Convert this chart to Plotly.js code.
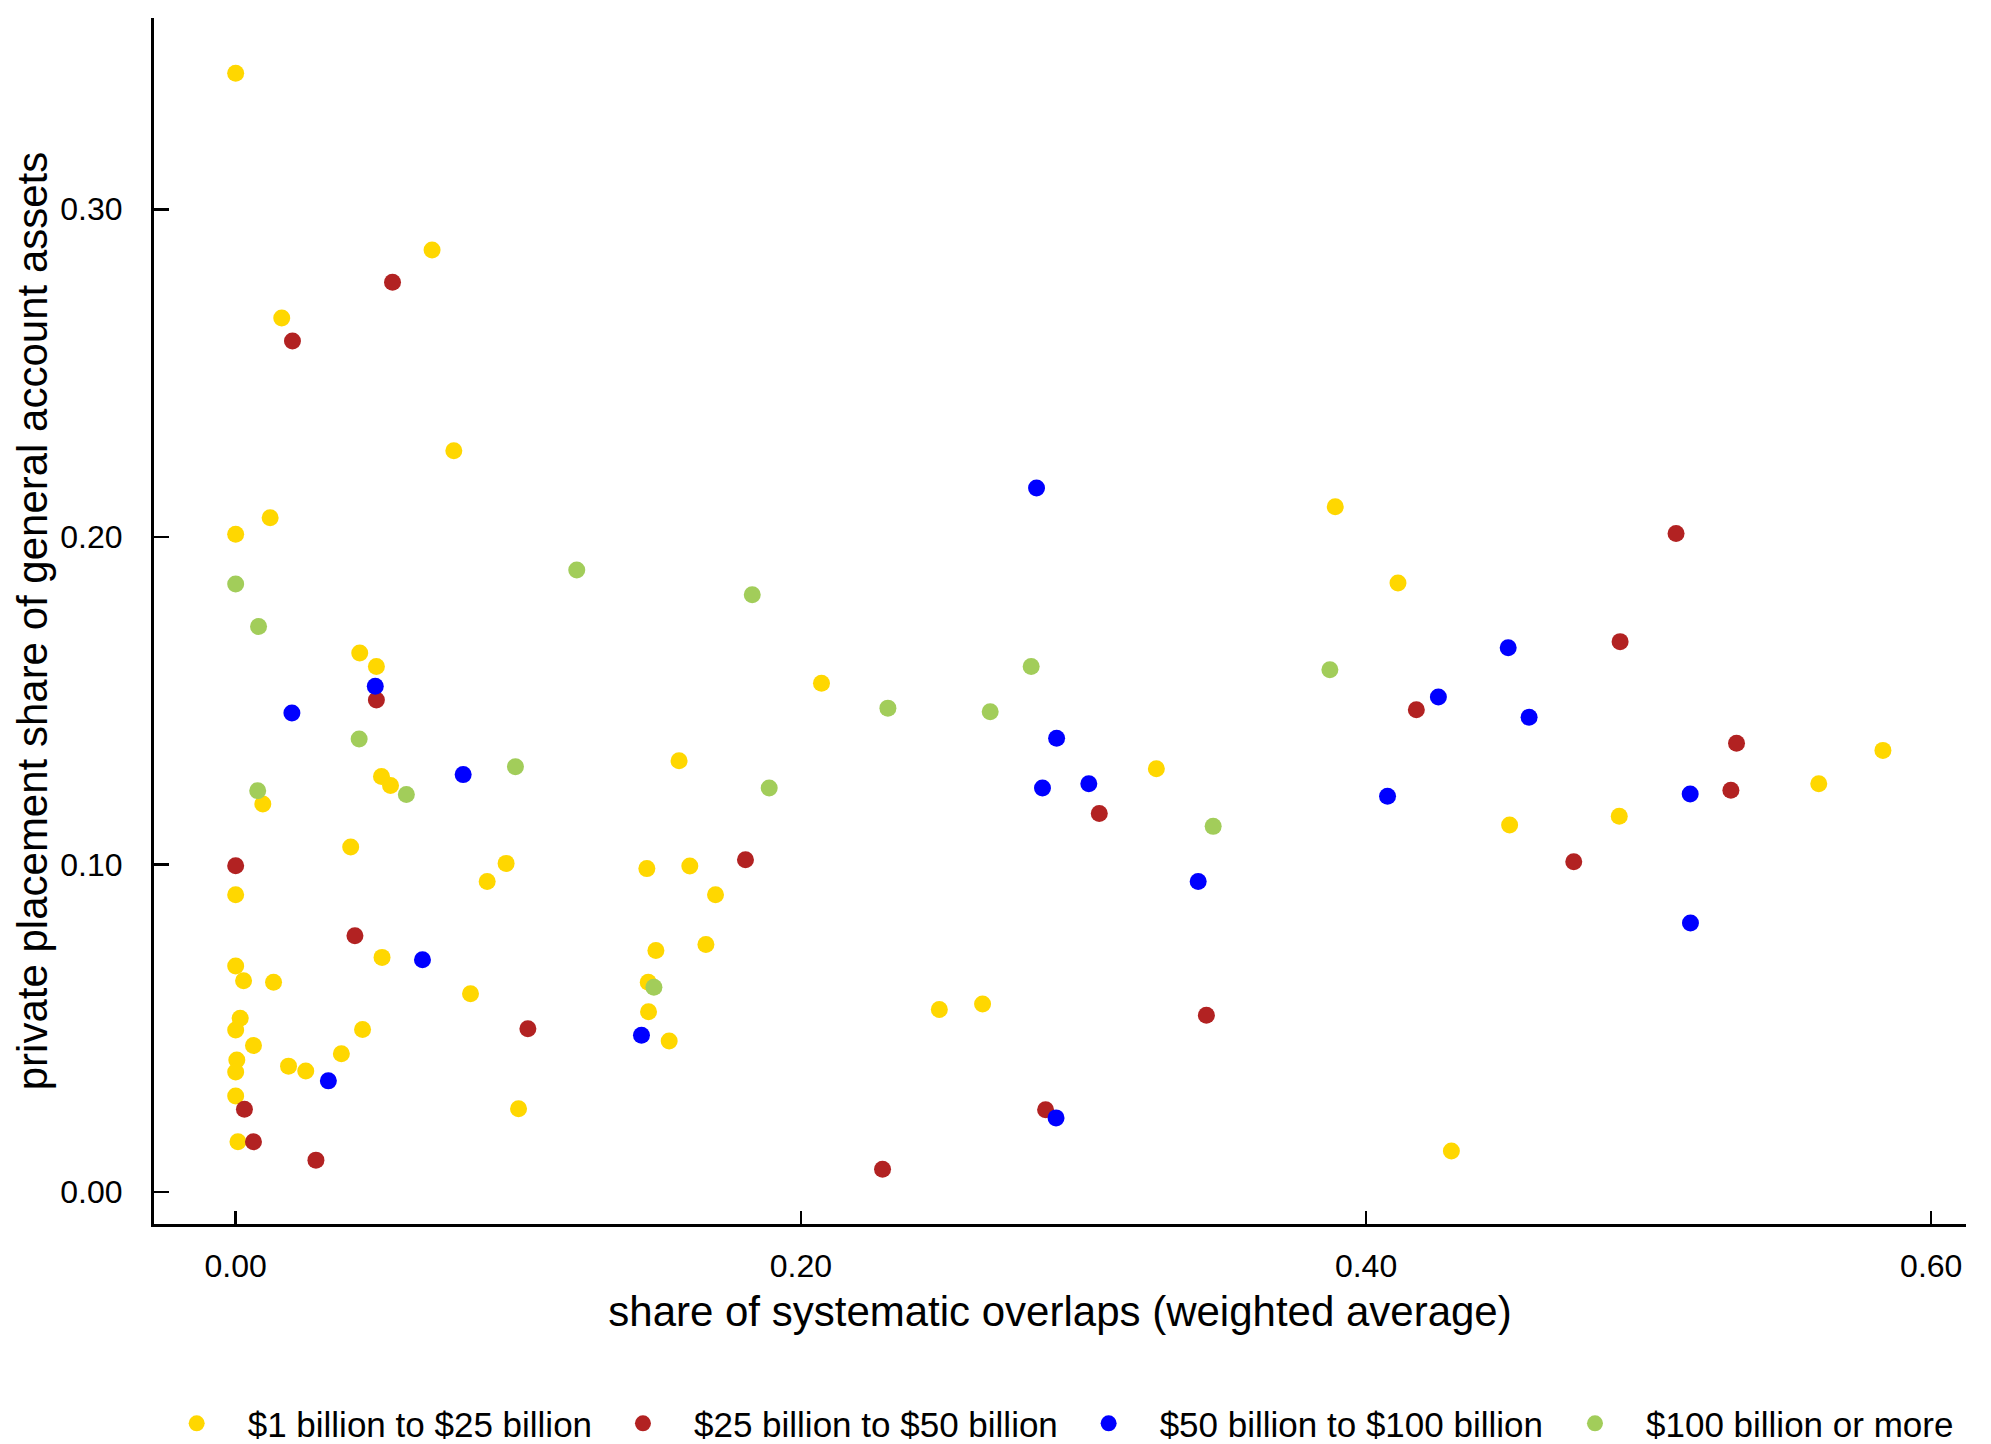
<!DOCTYPE html>
<html>
<head>
<meta charset="utf-8">
<script src="https://cdn.plot.ly/plotly-3.0.1.min.js"></script>
<style>html,body{margin:0;padding:0;background:#fff;}#chart{width:1991px;height:1444px;}</style>
</head>
<body>
<div id="chart"></div>
<script>
// ---- data ----
const seriesNames = ["$1 billion to $25 billion", "$25 billion to $50 billion", "$50 billion to $100 billion", "$100 billion or more"];

const smallX = [0.000,0.0695,0.0163,0.0772,0.0122,0.000,0.0439,0.0498,0.0516,0.0548,0.0096,0.0407,0.0957,0.0890,0.000,0.0518,0.000,0.0028,0.0134,0.0831,0.0016,0.000,0.0449,0.0063,0.0374,0.0004,0.000,0.0187,0.0248,0.000,0.1001,0.0008,0.2073,0.1569,0.3258,0.1455,0.1607,0.1698,0.1487,0.1664,0.1460,0.1461,0.1534,0.2490,0.2643,0.3891,0.4113,0.5829,0.5602,0.4896,0.4508,0.4302];
const smallY = [0.3415,0.2876,0.2668,0.2263,0.2058,0.2008,0.1645,0.1604,0.1268,0.1241,0.1184,0.1053,0.1003,0.0948,0.0907,0.0716,0.0690,0.0645,0.0640,0.0605,0.0530,0.0494,0.0496,0.0447,0.0422,0.0403,0.0366,0.0384,0.0369,0.0293,0.0254,0.0153,0.1553,0.1316,0.1292,0.0987,0.0995,0.0907,0.0737,0.0755,0.0640,0.0550,0.0461,0.0557,0.0574,0.2092,0.1859,0.1348,0.1246,0.1147,0.1120,0.0125];

const midX = [0.0555,0.0201,0.0498,0.000,0.0422,0.1034,0.0031,0.0063,0.0284,0.3056,0.1804,0.3435,0.2866,0.2289,0.5097,0.4899,0.4178,0.5311,0.5291,0.4735];
const midY = [0.2777,0.2598,0.1502,0.0996,0.0782,0.0498,0.0252,0.0153,0.0097,0.1155,0.1014,0.0539,0.0251,0.0069,0.2010,0.1680,0.1472,0.1370,0.1226,0.1008];

const largeX = [0.0494,0.0199,0.0805,0.0661,0.0328,0.2834,0.2905,0.2855,0.3019,0.3406,0.1436,0.2903,0.4503,0.4256,0.4577,0.5147,0.4076,0.5148];
const largeY = [0.1544,0.1462,0.1274,0.0709,0.0339,0.2149,0.1385,0.1233,0.1246,0.0948,0.0478,0.0226,0.1661,0.1511,0.1449,0.1215,0.1208,0.0821];

const hugeX = [0.000,0.1207,0.0081,0.0437,0.0990,0.0604,0.0078,0.1828,0.2815,0.2308,0.2670,0.1888,0.3459,0.1480,0.3872];
const hugeY = [0.1856,0.1899,0.1726,0.1383,0.1298,0.1213,0.1225,0.1823,0.1604,0.1477,0.1466,0.1233,0.1116,0.0625,0.1594];

const xTickVals = [0, 0.2, 0.4, 0.6];
const yTickVals = [0, 0.1, 0.2, 0.3];

// ---- styling ----
const colors = ["#FFD700", "#B22222", "#0000FF", "#A2CD5A"];
const FONT = "Liberation Sans, Arial, sans-serif";
const xs = [smallX, midX, largeX, hugeX];
const ys = [smallY, midY, largeY, hugeY];
const legendIds = ["legend", "legend2", "legend3", "legend4"];
const legendX = [-0.0046, 0.2417, 0.4987, 0.7671];

const traces = xs.map((x, i) => ({
  type: "scatter", mode: "markers", x: x, y: ys[i], name: seriesNames[i],
  legend: legendIds[i],
  marker: {color: colors[i], size: 17, line: {width: 0}},
  cliponaxis: false
}));

const layout = {
  width: 1991, height: 1444,
  paper_bgcolor: "#fff", plot_bgcolor: "#fff",
  margin: {l: 154, r: 25, t: 18, b: 220, autoexpand: false},
  font: {family: FONT, color: "#000"},
  xaxis: {
    range: [-0.0289, 0.6123], tickvals: xTickVals, tickformat: ".2f",
    ticks: "inside", ticklen: 13, tickwidth: 2.5, tickcolor: "#000",
    showline: true, linewidth: 3, linecolor: "#000", showgrid: false, zeroline: false,
    tickfont: {size: 32, family: FONT}, ticklabelstandoff: 12,
    title: {text: "share of systematic overlaps (weighted average)", font: {size: 42, family: FONT}, standoff: 14},
    automargin: false
  },
  yaxis: {
    range: [-0.0098, 0.3584], tickvals: yTickVals, tickformat: ".2f",
    ticks: "inside", ticklen: 15, tickwidth: 2.5, tickcolor: "#000",
    showline: true, linewidth: 3, linecolor: "#000", showgrid: false, zeroline: false,
    tickfont: {size: 32, family: FONT}, ticklabelstandoff: 22,
    title: {text: "private placement share of general account assets", font: {size: 42, family: FONT}, standoff: 0},
    automargin: false
  },
  showlegend: true
};
legendIds.forEach((id, i) => {
  layout[id] = {
    x: legendX[i], xanchor: "left", y: -0.1655, yanchor: "middle",
    orientation: "h", font: {size: 35, family: FONT}, bgcolor: "rgba(0,0,0,0)",
    borderwidth: 0, itemwidth: 92
  };
});

Plotly.newPlot("chart", traces, layout, {displayModeBar: false, staticPlot: true});
</script>
</body>
</html>
